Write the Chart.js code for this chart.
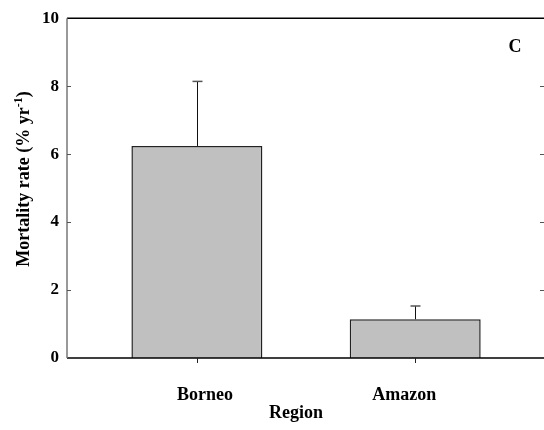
<!DOCTYPE html>
<html>
<head>
<meta charset="utf-8">
<script src="https://cdn.jsdelivr.net/npm/chart.js@4/dist/chart.umd.min.js"></script>
<style>
  html, body { margin: 0; padding: 0; background: #fff; overflow: hidden; }
  #wrap { width: 544px; height: 430px; position: relative; }
</style>
</head>
<body>
<div id="wrap"><canvas id="c" width="544" height="430"></canvas></div>
<script>
// Tree mortality by region (mean with upper error bar)
const regions = ['Borneo', 'Amazon'];
const mortality = [6.24, 1.14];
const mortalityError = [1.90, 0.39];
const yTickValues = [0, 2, 4, 6, 8, 10];
const panelLetter = 'C';
const xTitle = 'Region';
const yTitleParts = ['Mortality rate (% yr', '-1', ')'];

const SERIF = '"Liberation Serif", "Times New Roman", serif';
const font = (size) => 'bold ' + size + 'px ' + SERIF;

// label nudges (px) for category names under the axis
const labelNudge = [8, -11];

const framePlugin = {
  id: 'frame',
  afterDraw(chart) {
    const { ctx, chartArea: a, scales: { x, y } } = chart;
    ctx.save();

    // error bars (upper only)
    ctx.lineWidth = 1;
    mortality.forEach((m, i) => {
      const px = Math.round(x.getPixelForValue(i + 1)) + 0.5;
      const yTop = y.getPixelForValue(m);
      const yErr = y.getPixelForValue(m + mortalityError[i]);
      ctx.strokeStyle = '#111';
      ctx.beginPath();
      ctx.moveTo(px, yTop);
      ctx.lineTo(px, yErr);
      ctx.stroke();
      ctx.strokeStyle = '#555';
      ctx.lineWidth = 1.5;
      ctx.beginPath();
      ctx.moveTo(px - 5, yErr);
      ctx.lineTo(px + 5, yErr);
      ctx.stroke();
      ctx.lineWidth = 1;
    });

    // frame lines
    ctx.strokeStyle = '#000';
    ctx.lineWidth = 1.5;
    ctx.beginPath();
    ctx.moveTo(a.left, a.top);
    ctx.lineTo(a.right, a.top);
    ctx.moveTo(a.left, a.bottom);
    ctx.lineTo(a.right, a.bottom);
    ctx.stroke();
    ctx.strokeStyle = '#777';
    ctx.lineWidth = 1.5;
    ctx.beginPath();
    ctx.moveTo(a.left, a.top);
    ctx.lineTo(a.left, a.bottom);
    ctx.stroke();

    // inward y tick marks on both sides
    ctx.strokeStyle = '#555';
    ctx.lineWidth = 1;
    y.ticks.forEach(t => {
      if (t.value <= y.min || t.value >= y.max) return;
      const py = Math.round(y.getPixelForValue(t.value)) + 0.5;
      ctx.beginPath();
      ctx.moveTo(a.left, py);
      ctx.lineTo(a.left + 4, py);
      ctx.moveTo(a.right - 4, py);
      ctx.lineTo(a.right, py);
      ctx.stroke();
    });

    // outward x tick marks at categories
    ctx.strokeStyle = '#222';
    regions.forEach((r, i) => {
      const px = Math.round(x.getPixelForValue(i + 1)) + 0.5;
      ctx.beginPath();
      ctx.moveTo(px, a.bottom);
      ctx.lineTo(px, a.bottom + 5);
      ctx.stroke();
    });

    // category labels
    ctx.fillStyle = '#000';
    ctx.font = font(18);
    ctx.textAlign = 'center';
    ctx.textBaseline = 'alphabetic';
    regions.forEach((r, i) => {
      ctx.fillText(r, x.getPixelForValue(i + 1) + labelNudge[i], 400);
    });

    // x axis title
    ctx.fillText(xTitle, 296, 418);

    // panel letter
    ctx.fillText(panelLetter, 515, 52);

    // y axis title with superscript
    ctx.translate(29, 179);
    ctx.rotate(-Math.PI / 2);
    const big = font(18), small = font(12);
    ctx.font = big;
    const w0 = ctx.measureText(yTitleParts[0]).width;
    const w2 = ctx.measureText(yTitleParts[2]).width;
    ctx.font = small;
    const w1 = ctx.measureText(yTitleParts[1]).width;
    const total = w0 + w1 + w2;
    let cx = -total / 2;
    ctx.textAlign = 'left';
    ctx.font = big;
    ctx.fillText(yTitleParts[0], cx, 0);
    cx += w0;
    ctx.font = small;
    ctx.fillText(yTitleParts[1], cx, -7);
    cx += w1;
    ctx.font = big;
    ctx.fillText(yTitleParts[2], cx, 0);

    ctx.restore();
  }
};

new Chart(document.getElementById('c'), {
  type: 'bar',
  data: {
    datasets: [{
      data: regions.map((r, i) => ({ x: i + 1, y: mortality[i] })),
      backgroundColor: '#c0c0c0',
      borderColor: '#222',
      borderWidth: 1.5,
      borderSkipped: 'bottom',
      categoryPercentage: 0.6,
      barPercentage: 1.0
    }]
  },
  options: {
    responsive: false,
    animation: false,
    devicePixelRatio: 1,
    layout: { padding: { top: 15, right: 0, left: 0, bottom: 0 } },
    plugins: { legend: { display: false }, tooltip: { enabled: false } },
    scales: {
      x: {
        type: 'linear',
        offset: false,
        min: 0.405,
        max: 2.59,
        grid: { display: false, offset: false, drawTicks: false },
        border: { display: false },
        ticks: { display: false },
        afterBuildTicks: (s) => { s.ticks = regions.map((r, i) => ({ value: i + 1 })); },
        afterFit: (s) => { s.height = 72; }
      },
      y: {
        min: 0,
        max: 10,
        grid: { display: false, drawTicks: false },
        border: { display: false },
        afterBuildTicks: (s) => { s.ticks = yTickValues.map(v => ({ value: v })); },
        ticks: {
          color: '#000',
          padding: 8,
          font: { family: SERIF, size: 17, weight: 'bold' }
        },
        afterFit: (s) => { s.width = 67; }
      }
    }
  },
  plugins: [framePlugin]
});
</script>
</body>
</html>
